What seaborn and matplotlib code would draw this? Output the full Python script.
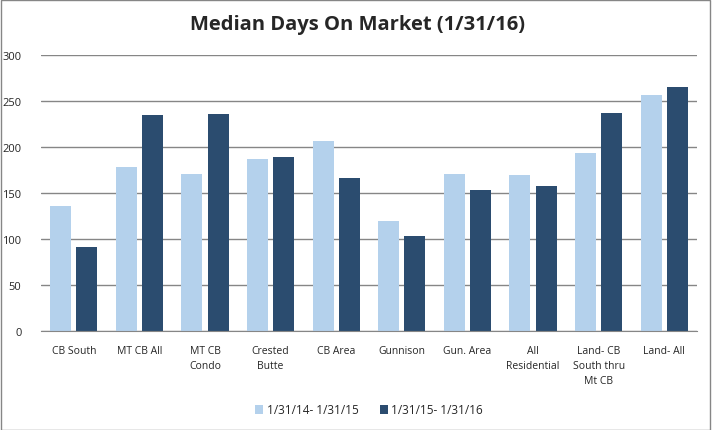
import matplotlib
matplotlib.use("Agg")
import matplotlib.pyplot as plt
import seaborn as sns
import pandas as pd
from matplotlib.patches import Rectangle

categories = ["CB South", "MT CB All", "MT CB\nCondo", "Crested\nButte", "CB Area",
              "Gunnison", "Gun. Area", "All\nResidential", "Land- CB\nSouth thru\nMt CB", "Land- All"]
series_names = ["1/31/14- 1/31/15", "1/31/15- 1/31/16"]
values_2015 = [136, 178, 171, 187, 206, 120, 171, 170, 193, 256]
values_2016 = [91, 235, 236, 189, 166, 103, 153, 158, 237, 265]
yticks = [0, 50, 100, 150, 200, 250, 300]
colors = ["#B4D1EC", "#2B4C6F"]

df = pd.DataFrame({
    "category": categories * 2,
    "period": [series_names[0]] * len(categories) + [series_names[1]] * len(categories),
    "days": values_2015 + values_2016,
})

sns.set_style("white")
plt.rcParams["font.family"] = ["Open Sans", "DejaVu Sans"]

fig = plt.figure(figsize=(7.14, 4.31), dpi=100)
ax = fig.add_axes([41 / 714, 1 - 332 / 431, (697 - 41) / 714, (332 - 56) / 431])

sns.barplot(data=df, x="category", y="days", hue="period", palette=colors,
            width=0.8, gap=0.2, saturation=1, linewidth=0, edgecolor="none",
            ax=ax, legend=True)

ax.set_ylim(0, 300)
ax.set_xlim(-0.5, len(categories) - 0.5)
ax.set_yticks(yticks)
ax.set_yticklabels([str(t) for t in yticks], fontsize=8)
ax.tick_params(axis="y", length=0, pad=14)
ax.tick_params(axis="x", length=0, pad=10, labelsize=7.5)
ax.set_xlabel("")
ax.set_ylabel("")
ax.grid(axis="y", color="#868686", linewidth=1)
ax.set_axisbelow(True)
for s in ["left", "right", "top"]:
    ax.spines[s].set_visible(False)
ax.spines["bottom"].set_color("#868686")
for lbl in ax.get_xticklabels():
    lbl.set_linespacing(1.5)

leg = ax.legend(loc="center", bbox_to_anchor=(0.5, (332 - 411) / 276), ncol=2, frameon=False,
                fontsize=8.5, handlelength=0.7, handleheight=0.7, handletextpad=0.3, columnspacing=1.8)

fig.text(0.5, 1 - 25 / 431, "Median Days On Market (1/31/16)", ha="center", va="center",
         fontsize=14.5, fontweight="bold")

fig.patches.append(Rectangle((0.5 / 714, 0.5 / 431), 1 - 4.5 / 714, 1 - 1.5 / 431,
                             transform=fig.transFigure, fill=False, edgecolor="#868686",
                             linewidth=1))

fig.savefig("out.png", dpi=100)
